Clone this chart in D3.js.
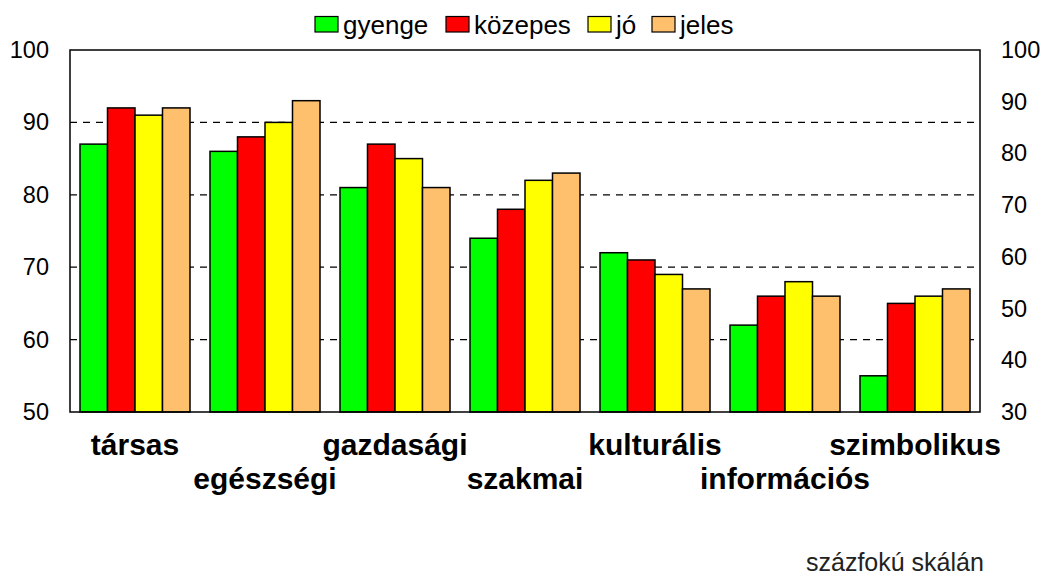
<!DOCTYPE html>
<html><head><meta charset="utf-8">
<script src="https://cdn.jsdelivr.net/npm/d3@7"></script>
<style>body{margin:0;background:#fff}svg{display:block;font-family:Arial,"Liberation Sans",sans-serif}</style>
</head><body><svg id="c" width="1045" height="577"></svg>
<script>
const categories = ["társas","egészségi","gazdasági","szakmai","kulturális","információs","szimbolikus"];
const seriesNames = ["gyenge","közepes","jó","jeles"];
const seriesColors = ["#00FF00","#FF0000","#FFFF00","#FFC06E"];
const gyenge   = [87,86,81,74,72,62,55];
const kozepes  = [92,88,87,78,71,66,65];
const jo       = [91,90,85,82,69,68,66];
const jeles    = [92,93,81,83,67,66,67];
const leftTicks = [50,60,70,80,90,100];
const rightTicks = [30,40,50,60,70,80,90,100];
const gridValues = [60,70,80,90];
const footnote = "százfokú skálán";

const series = [gyenge,kozepes,jo,jeles];
const svg = d3.select("#c");
const L=70, R=980, T=50, B=412;

const x0 = d3.scaleBand().domain(categories).range([L,R]).paddingInner(20/130).paddingOuter(10/130);
const x1 = d3.scaleBand().domain(d3.range(4)).range([0,x0.bandwidth()]);
const y = d3.scaleLinear().domain([50,100]).range([B,T]);
const y2 = d3.scaleLinear().domain([30,100]).range([B,T]);

// gridlines
svg.append("g").selectAll("line").data(gridValues).join("line")
  .attr("x1",L).attr("x2",R).attr("y1",d=>y(d)).attr("y2",d=>y(d))
  .attr("stroke","#000").attr("stroke-width",1.2).attr("stroke-dasharray","7,6");

// bars
const g = svg.append("g");
categories.forEach((c,i)=>{
  series.forEach((s,j)=>{
    g.append("rect")
      .attr("x",x0(c)+x1(j)).attr("width",x1.bandwidth())
      .attr("y",y(s[i])).attr("height",B-y(s[i]))
      .attr("fill",seriesColors[j]).attr("stroke","#000").attr("stroke-width",1.5);
  });
});

// frame
svg.append("rect").attr("x",L).attr("y",T).attr("width",R-L).attr("height",B-T)
  .attr("fill","none").attr("stroke","#000").attr("stroke-width",1.5);

// axes
const la = svg.append("g").attr("transform",`translate(${L},0)`)
  .call(d3.axisLeft(y).tickValues(leftTicks).tickSize(0).tickPadding(21));
la.select(".domain").remove();
la.selectAll("text").attr("font-size",23.5).attr("fill","#000").style("font-family","Arial, Liberation Sans, sans-serif");
const ra = svg.append("g").attr("transform",`translate(${R},0)`)
  .call(d3.axisRight(y2).tickValues(rightTicks).tickSize(0).tickPadding(21));
ra.select(".domain").remove();
ra.selectAll("text").attr("font-size",23.5).attr("fill","#000").style("font-family","Arial, Liberation Sans, sans-serif");

// category labels, staggered
svg.append("g").selectAll("text").data(categories).join("text")
  .attr("x",d=>x0(d)+x0.bandwidth()/2)
  .attr("y",(d,i)=> i%2===0 ? 455 : 489)
  .attr("text-anchor","middle").attr("font-weight","bold").attr("font-size",30)
  .text(d=>d);

// legend
const legX = [315,446,588,652];
const lg = svg.append("g");
seriesNames.forEach((n,j)=>{
  lg.append("rect").attr("x",legX[j]).attr("y",16.5).attr("width",23).attr("height",15.5)
    .attr("fill",seriesColors[j]).attr("stroke","#000").attr("stroke-width",1.2);
  lg.append("text").attr("x",legX[j]+28).attr("y",33.5).attr("font-size",26).text(n);
});

svg.append("text").attr("x",806).attr("y",571).attr("font-size",25).attr("fill","#222").text(footnote);
</script></body></html>
